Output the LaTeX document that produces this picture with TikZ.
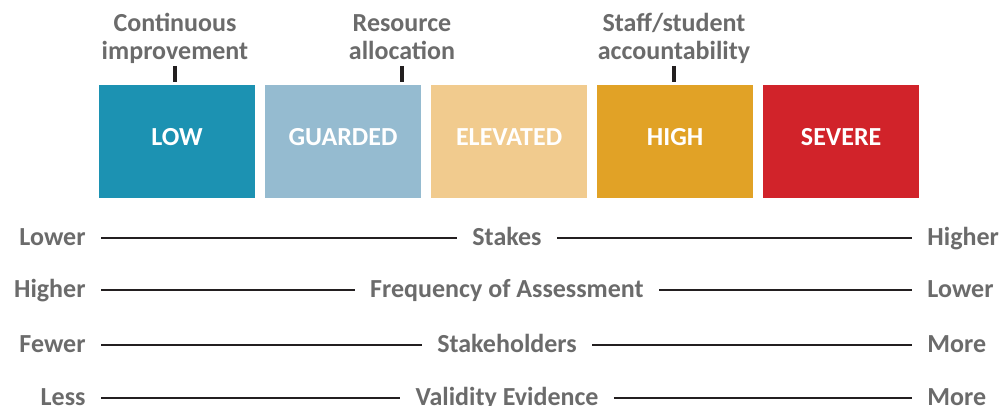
\documentclass[tikz,border=0pt]{standalone}
\usepackage{fontspec}
\setmainfont{Carlito}
\usetikzlibrary{positioning}
\definecolor{gristexte}{HTML}{6B6B6B}
\definecolor{noir}{HTML}{231F20}
\definecolor{bleu}{HTML}{1C92B2}
\definecolor{bleuclair}{HTML}{95BBD0}
\definecolor{sable}{HTML}{F1CB8E}
\definecolor{ocre}{HTML}{E1A226}
\definecolor{rouge}{HTML}{D1232A}
\tikzstyle{niveau} = [rectangle,minimum width=3.9cm,minimum height=2.825cm,inner sep=0pt,outer sep=0pt,text=white,font=\bfseries\fontsize{18.5}{20}\selectfont,text depth=6pt]
\tikzstyle{titre} = [align=center,text=gristexte,inner sep=0pt,outer sep=0pt,text depth=4.5pt,font=\bfseries\fontsize{18.5}{20}\selectfont]
\tikzstyle{repere} = [-,line width=3.5pt,color=noir]
\tikzstyle{borne} = [text=gristexte,inner xsep=0pt,outer xsep=11pt,text height=14pt,text depth=4pt,font=\bfseries\fontsize{18.5}{20}\selectfont]
\tikzstyle{trait} = [-,line width=1.6pt,color=noir]

\begin{document}
\begin{tikzpicture}[x=0.025cm,y=-0.025cm]
	\useasboundingbox (0,0) rectangle (1004,406);

	%% Niveaux
	\node[niveau,fill=bleu] (Low) at (177,141.5) {LOW};
	\node[niveau,fill=bleuclair,right=0.25cm of Low] (Guarded) {GUARDED};
	\node[niveau,fill=sable,right=0.25cm of Guarded] (Elevated) {ELEVATED};
	\node[niveau,fill=ocre,right=0.25cm of Elevated] (High) {HIGH};
	\node[niveau,fill=rouge,right=0.25cm of High] (Severe) {SEVERE};

	%% Usages
	\coordinate (r1) at (175,82);
	\coordinate (r2) at (402,82);
	\coordinate (r3) at (674,82);
	\node[titre,anchor=south] (Amelio) at (175,66) {Continuous\\improvement};
	\node[titre,anchor=south] (Ressource) at (402,66) {Resource\\allocation};
	\node[titre,anchor=south] (Respons) at (674,66) {Staff/student\\accountability};
	\draw[repere] (Amelio) -- (r1);
	\draw[repere] (Ressource) -- (r2);
	\draw[repere] (Respons) -- (r3);

	%% Echelles
	\node[borne,anchor=east] (g1) at (101,238) {Lower};
	\node[borne] (m1) at (507,238) {Stakes};
	\node[borne,anchor=west] (d1) at (912,238) {Higher};
	\draw[trait] (g1) -- (m1);
	\draw[trait] (m1) -- (d1);

	\node[borne,anchor=east] (g2) at (101,290) {Higher};
	\node[borne] (m2) at (507,290) {Frequency of Assessment};
	\node[borne,anchor=west] (d2) at (912,290) {Lower};
	\draw[trait] (g2) -- (m2);
	\draw[trait] (m2) -- (d2);

	\node[borne,anchor=east] (g3) at (101,345) {Fewer};
	\node[borne] (m3) at (507,345) {Stakeholders};
	\node[borne,anchor=west] (d3) at (912,345) {More};
	\draw[trait] (g3) -- (m3);
	\draw[trait] (m3) -- (d3);

	\node[borne,anchor=east] (g4) at (101,398) {Less};
	\node[borne] (m4) at (507,398) {Validity Evidence};
	\node[borne,anchor=west] (d4) at (912,398) {More};
	\draw[trait] (g4) -- (m4);
	\draw[trait] (m4) -- (d4);

\end{tikzpicture}
\end{document}
